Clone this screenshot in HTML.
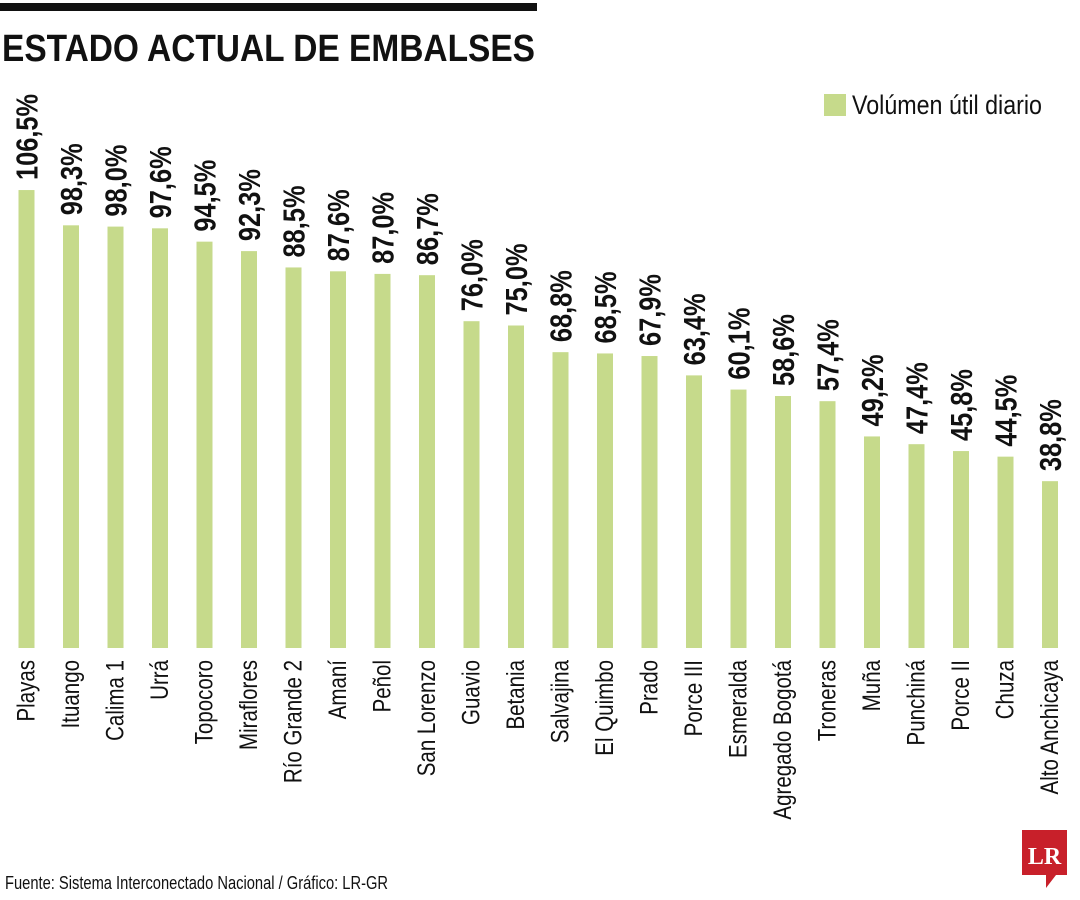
<!DOCTYPE html>
<html><head><meta charset="utf-8"><style>
html,body{margin:0;padding:0;background:#fff;}
svg{display:block;font-family:"Liberation Sans",sans-serif;}
</style></head><body>
<svg id="chart" width="1080" height="900" viewBox="0 0 1080 900" xmlns="http://www.w3.org/2000/svg">
<rect x="0" y="3" width="537" height="8" fill="#111"/>
<text x="2" y="61" font-size="38" font-weight="bold" textLength="533" lengthAdjust="spacingAndGlyphs" fill="#111">ESTADO ACTUAL DE EMBALSES</text>
<rect x="824" y="94" width="22" height="22" fill="#c6da8b"/>
<text x="852" y="114" font-size="27" textLength="190" lengthAdjust="spacingAndGlyphs" fill="#111">Volúmen útil diario</text>
<g id="bars"></g>
<text x="5" y="889" font-size="18" textLength="383" lengthAdjust="spacingAndGlyphs" fill="#111">Fuente: Sistema Interconectado Nacional / Gráfico: LR-GR</text>
<g>
<path d="M1022 830 H1067 V875 H1056 L1046 888 L1046 875 H1022 Z" fill="#c8202a"/>
<text x="1044.5" y="864" font-size="24" font-weight="bold" font-family="Liberation Serif,serif" fill="#fff" text-anchor="middle">LR</text>
</g>
</svg>
<script>
const categories=["Playas","Ituango","Calima 1","Urrá","Topocoro","Miraflores","Río Grande 2","Amaní","Peñol","San Lorenzo","Guavio","Betania","Salvajina","El Quimbo","Prado","Porce III","Esmeralda","Agregado Bogotá","Troneras","Muña","Punchiná","Porce II","Chuza","Alto Anchicaya"];
const values=[106.5,98.3,98.0,97.6,94.5,92.3,88.5,87.6,87.0,86.7,76.0,75.0,68.8,68.5,67.9,63.4,60.1,58.6,57.4,49.2,47.4,45.8,44.5,38.8];
const NS="http://www.w3.org/2000/svg";
const g=document.getElementById('bars');
const baseY=648, pxPerUnit=4.30, x0=26.5, step=44.5, bw=16;
function xPos(i){return x0+i*step;}
function yPos(v){return baseY-v*pxPerUnit;}
function fmt(v){return v.toFixed(1).replace('.',',')+'%';}
categories.forEach((c,i)=>{
  const cx=xPos(i), top=yPos(values[i]);
  const r=document.createElementNS(NS,'rect');
  r.setAttribute('x',cx-bw/2);r.setAttribute('y',top);r.setAttribute('width',bw);r.setAttribute('height',baseY-top);r.setAttribute('fill','#c6da8b');
  
  
  g.appendChild(r);
  const t=document.createElementNS(NS,'text');
  t.setAttribute('transform',`translate(${cx+11},${top-10}) rotate(-90) scale(0.82,1)`);
  t.setAttribute('font-size','31');t.setAttribute('font-weight','bold');t.setAttribute('fill','#111');
  t.textContent=fmt(values[i]);
  
  
  g.appendChild(t);
  const l=document.createElementNS(NS,'text');
  l.setAttribute('transform',`translate(${cx+8},660) rotate(-90) scale(0.82,1)`);
  l.setAttribute('font-size','25');l.setAttribute('text-anchor','end');l.setAttribute('fill','#111');
  l.textContent=c;
  
  
  g.appendChild(l);
});
</script>
</body></html>
